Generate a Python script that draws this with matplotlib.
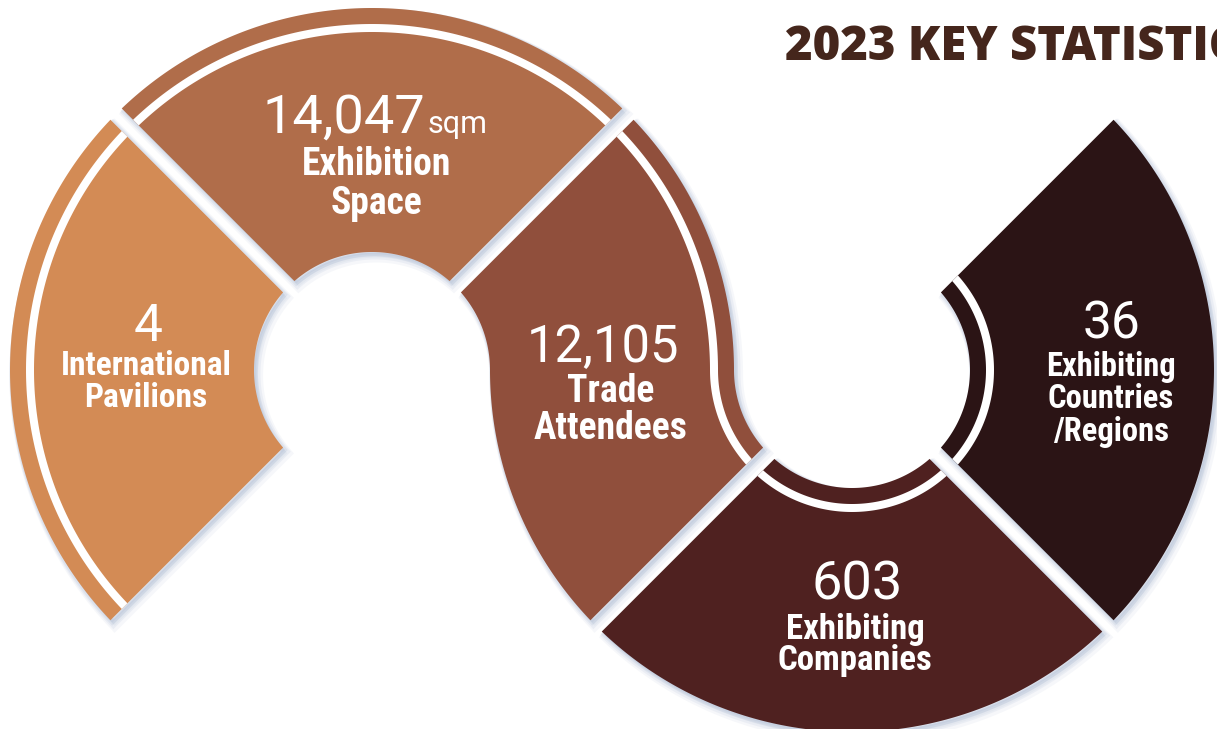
import numpy as np
import matplotlib
matplotlib.use('Agg')
import matplotlib.pyplot as plt
from matplotlib.patches import Polygon

# chart content
values = ['4', '14,047', '12,105', '603', '36']
units = ['', 'sqm', '', '', '']
labels = ['International\nPavilions', 'Exhibition\nSpace', 'Trade\nAttendees',
          'Exhibiting\nCompanies', 'Exhibiting\nCountries\n/Regions']
colors = ['#D38B55', '#B06D4A', '#904F3C', '#4F2120', '#2B1415']
title = '2023 KEY STATISTICS'

# layout (pixels, y down)
W, H = 1217, 729
L = (372, 370)      # centre of left ring
R = (852, 370)      # centre of right ring
RO, RI = 362, 118   # outer / inner radius (RO + RI = distance between centres)
BAND, LINE = 16, 8  # coloured band and white stripe width
HALF_GAP = 8
SHADOW = '#a7b6d0'

value_pos = [(148, 341), (425, 133), (603, 362), (857, 600), (1112, 338)]
value_size = [37, 39, 36.5, 39, 37]
label_pos = [(146, 382), (377, 184), (611, 410), (855, 645), (1111, 399)]
label_size = [24, 27, 27, 25, 23.5]
label_spacing = [1.0, 1.09, 0.97, 0.93, 1.02]


def off(r):
    return np.degrees(np.arcsin(HALF_GAP / r))


def arc(c, r, a, b, n=120):
    th = np.radians(np.linspace(a, b, n))
    return np.column_stack([c[0] + r * np.cos(th), c[1] - r * np.sin(th)])


def sector(c, r1, r2, t1, t2, cut1=True, cut2=True):
    def lim(r):
        return (t1 + off(r) if cut1 else t1, t2 - off(r) if cut2 else t2)
    a, b = lim(r2)
    outer = arc(c, r2, a, b)
    a, b = lim(r1)
    inner = arc(c, r1, b, a)
    return np.vstack([outer, inner])


def s_piece(rl1, rl2):
    # the trade attendees shape: upper right of left ring + lower left of right ring
    rr1, rr2 = RO + RI - rl2, RO + RI - rl1
    p1 = arc(L, rl2, 45 - off(rl2), 0)
    p2 = arc(R, rr1, 180, 225 - off(rr1))
    p3 = arc(R, rr2, 225 - off(rr2), 180)
    p4 = arc(L, rl1, 0, 45 - off(rl1))
    return np.vstack([p1, p2, p3, p4])


shapes = [
    sector(L, RI, RO, 135, 225),
    sector(L, RI, RO, 45, 135),
    s_piece(RI, RO),
    sector(R, RI, RO, 225, 315),
    sector(R, RI, RO, -45, 45),
]
stripes = [
    sector(L, RO - BAND - LINE, RO - BAND, 135, 225),
    sector(L, RO - BAND - LINE, RO - BAND, 45, 135),
    s_piece(RO - BAND - LINE, RO - BAND),
    sector(R, RI + BAND, RI + BAND + LINE, 225, 315),
    sector(R, RI + BAND, RI + BAND + LINE, -45, 45),
]

fig = plt.figure(figsize=(W / 100, H / 100), dpi=100)
ax = fig.add_axes([0, 0, 1, 1])
ax.set_xlim(0, W)
ax.set_ylim(H, 0)
ax.axis('off')

# soft shadows
for pts in shapes:
    for k, a in [(7, 0.10), (5, 0.14), (3, 0.2)]:
        ax.add_patch(Polygon(pts + [k * 0.6, k * 0.8], closed=True, facecolor=SHADOW,
                             edgecolor=SHADOW, lw=k, alpha=a, zorder=1))

for pts, col in zip(shapes, colors):
    ax.add_patch(Polygon(pts, closed=True, facecolor=col, edgecolor='none', zorder=2))
for pts in stripes:
    ax.add_patch(Polygon(pts, closed=True, facecolor='white', edgecolor='none', zorder=3))

num_font = ['Roboto', 'DejaVu Sans']
lab_font = ['Roboto Condensed', 'Liberation Sans Narrow', 'Roboto', 'DejaVu Sans']

for i in range(len(values)):
    x, y = value_pos[i]
    ha = 'right' if units[i] else 'center'
    ax.text(x, y, values[i], ha=ha, va='baseline', color='white', fontsize=value_size[i],
            family=num_font, fontweight='normal', zorder=5)
    if units[i]:
        ax.text(x + 3, y, units[i], ha='left', va='baseline', color='white', fontsize=22,
                family=num_font, fontweight='normal', zorder=5)
    lx, ly = label_pos[i]
    ax.text(lx, ly, labels[i], ha='center', va='center', color='white', fontsize=label_size[i],
            family=lab_font, fontweight='bold', linespacing=label_spacing[i], zorder=5)

# the title runs off the right edge, as in the source layout
ax.text(785, 60, title, ha='left', va='baseline', color='#45261C', fontsize=34,
        family=['Open Sans', 'DejaVu Sans'], fontweight='heavy', zorder=5)

fig.savefig('out.png', dpi=100)
